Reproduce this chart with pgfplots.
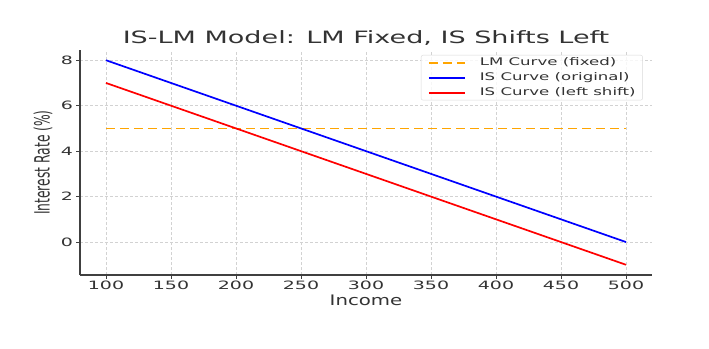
\documentclass[border=0pt]{standalone}
\usepackage{fontspec}
\setmainfont{DejaVu Sans}
\newfontfamily\titlefont{DejaVu Sans}[FakeStretch=1.59]
\newfontfamily\tickfont{DejaVu Sans}[FakeStretch=1.65]
\newfontfamily\legfont{DejaVu Sans}[FakeStretch=1.58]
\newfontfamily\xlabfont{DejaVu Sans}[FakeStretch=1.36]
\newfontfamily\ylabfont{DejaVu Sans}[FakeStretch=0.585]
\usepackage{pgfplots}
\pgfplotsset{compat=1.18}
\definecolor{mplorange}{HTML}{FFA500}
\definecolor{txt}{HTML}{333333}
\begin{document}
\begin{tikzpicture}
\useasboundingbox (-80pt,-73pt) rectangle (629pt,275pt);
\begin{axis}[
  at={(0pt,0pt)}, anchor=south west,
  scale only axis, width=572pt, height=225pt,
  xmin=80, xmax=520, ymin=-1.45, ymax=8.45,
  axis x line*=bottom, axis y line*=left,
  axis line style={-, black!75, line width=1.2pt},
  xtick={100,150,...,500}, ytick={0,2,4,6,8},
  tick align=outside, major tick length=3.5pt,
  tick style={black!75, line width=0.9pt},
  /pgf/number format/assume math mode=true,
  ticklabel style={text=txt},
  xticklabel style={font=\tickfont\fontsize{11.5}{13}\selectfont, yshift=1.5pt},
  yticklabel style={font=\tickfont\fontsize{11.5}{13}\selectfont},
  grid=major,
  major grid style={gray!35, line width=0.6pt, dash pattern=on 3pt off 2pt},
  title={IS-LM Model: LM Fixed, IS Shifts Left},
  title style={at={(axis description cs:0.5,1)}, anchor=base, yshift=1pt,
    font=\titlefont\fontsize{17}{19}\selectfont, text=txt},
  xlabel={Income},
  xlabel style={at={(axis description cs:0.5,0)}, anchor=base, yshift=-30.7pt,
    font=\xlabfont\fontsize{14.5}{16}\selectfont, text=txt},
  ylabel={Interest Rate (\%)},
  ylabel style={at={(axis description cs:-0.0647,0.5)}, anchor=center,
    font=\ylabfont\fontsize{21}{23}\selectfont, text=txt},
  legend cell align=left,
  legend image code/.code={\draw[#1] (0pt,0pt) -- (36pt,0pt);},
  legend style={at={(rel axis cs:0.984,0.978)}, anchor=north east,
    draw=gray!30, rounded corners=2pt, fill=white, fill opacity=0.8, text opacity=1,
    font=\legfont\fontsize{10.5}{12}\selectfont, text=txt,
    inner xsep=7pt, inner ysep=2.25pt, row sep=4.5pt, column sep=14pt,
    nodes={inner sep=0pt, text height=8pt, text depth=2.5pt}},
]
\addplot[mplorange, line width=1.7pt, dash pattern=on 9pt off 5pt] coordinates {(100,5) (500,5)};
\addplot[blue, line width=1.7pt] coordinates {(100,8) (500,0)};
\addplot[red, line width=1.7pt] coordinates {(100,7) (500,-1)};
\legend{LM Curve (fixed), IS Curve (original), IS Curve (left shift)}
\end{axis}
\end{tikzpicture}
\end{document}
